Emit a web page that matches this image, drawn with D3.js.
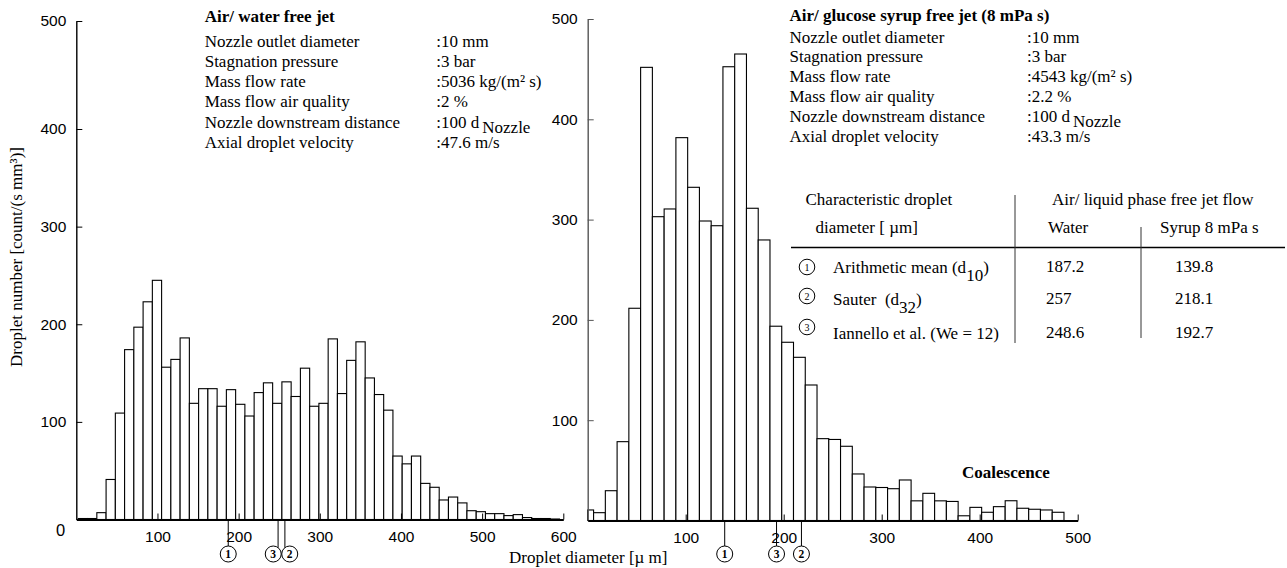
<!DOCTYPE html>
<html>
<head>
<meta charset="utf-8">
<script src="https://cdn.jsdelivr.net/npm/d3@7"></script>
<style>
  html, body { margin: 0; padding: 0; background: #fff; }
  svg { display: block; }
</style>
</head>
<body>
<svg id="chart" width="1287" height="568"></svg>
<script>
// Droplet size distributions of two air/liquid free jets
// (left: air/water, right: air/glucose syrup 8 mPa s).

// ---- Histogram classes (µm) and droplet number per class ----
const waterBinStart = 2.5;
const waterBinWidth = 11.4;
const waterCounts = [1, 1, 7, 41, 109, 174, 197, 223, 245, 156, 164, 186, 119, 134, 134, 116,
  133, 118, 106, 130, 140, 119, 141, 126, 155, 116, 119, 185, 129, 163, 182, 145, 128, 112,
  65, 57, 65, 37, 33, 20, 23, 17, 9, 8, 6, 6, 4, 5, 2, 1, 1, 0.5];

const syrupBinStart = -6;
const syrupBinWidth = 12;
const syrupCounts = [10.5, 7.8, 29.7, 78.6, 211.6, 451.8, 302.9, 310.6, 381.7, 332.2, 298.6,
  293.9, 452.4, 465.1, 311.3, 279.7, 193.7, 177.7, 162.7, 135.1, 81.6, 80.8, 74, 46.4, 33.4,
  32.9, 31.7, 40.4, 19.6, 27.1, 19.6, 19, 4.7, 13.1, 8.2, 13.8, 19.7, 12.2, 11.2, 10.5, 8.2];

// ---- Axis ticks ----
const countTicks = [100, 200, 300, 400, 500];
const waterDiameterTicks = [100, 200, 300, 400, 500, 600];
const syrupDiameterTicks = [100, 200, 300, 400, 500];

// ---- Operating conditions ----
const conditionLabels = ["Nozzle outlet diameter", "Stagnation pressure", "Mass flow rate",
  "Mass flow air quality", "Nozzle downstream distance", "Axial droplet velocity"];
const waterConditions = [":10 mm", ":3 bar", ":5036 kg/(m\u00B2 s)", ":2 %", ":100 d_Nozzle", ":47.6 m/s"];
const syrupConditions = [":10 mm", ":3 bar", ":4543 kg/(m\u00B2 s)", ":2.2 %", ":100 d_Nozzle", ":43.3 m/s"];

// ---- Characteristic droplet diameters (µm) ----
const diameterNames = [["Arithmetic mean (d", "10", ")"], ["Sauter \u00A0(d", "32", ")"],
  ["Iannello et al. (We = 12)", "", ""]];
const waterDiameters = [187.2, 257, 248.6];
const syrupDiameters = [139.8, 218.1, 192.7];

// ---------------------------------------------------------------
const SERIF = "'Liberation Serif', 'Times New Roman', serif";
const SANS = "'Liberation Sans', Arial, Helvetica, sans-serif";

const svg = d3.select("#chart");
svg.append("rect").attr("width", 1287).attr("height", 568).attr("fill", "#fff");

const xW = d3.scaleLinear().domain([0, 600]).range([76.3, 563.3]);
const yW = d3.scaleLinear().domain([0, 400, 500]).range([519.5, 129, 21]);
const xS = d3.scaleLinear().domain([0, 500]).range([587.7, 1077.7]).clamp(true);
const yS = d3.scaleLinear().domain([0, 500]).range([520.5, 19]);

function histogram(counts, start, width, x, y) {
  const g = svg.append("g");
  g.selectAll("rect")
    .data(counts.map((c, i) => ({ lo: start + i * width, hi: start + (i + 1) * width, c })))
    .join("rect")
    .attr("x", d => x(d.lo))
    .attr("width", d => x(d.hi) - x(d.lo))
    .attr("y", d => y(d.c))
    .attr("height", d => y(0) - y(d.c))
    .attr("fill", "#fff")
    .attr("stroke", "#000")
    .attr("stroke-width", 1.1);
}

function axes(x, y, xTicks, yColor) {
  const gy = svg.append("g")
    .attr("transform", `translate(${x(0)},0)`)
    .call(d3.axisLeft(y).tickValues(countTicks).tickSizeInner(-6).tickSizeOuter(0).tickPadding(10));
  gy.select(".domain").attr("stroke", yColor).attr("stroke-width", 1.4);
  gy.selectAll(".tick line").attr("stroke", yColor);
  gy.selectAll("text").attr("font-family", SANS).attr("font-size", 15.5).attr("fill", "#000");

  const gx = svg.append("g")
    .attr("transform", `translate(0,${y(0)})`)
    .call(d3.axisBottom(x).tickValues(xTicks).tickSizeInner(-6).tickSizeOuter(0).tickPadding(11));
  gx.select(".domain").attr("stroke", "#000").attr("stroke-width", 2);
  gx.selectAll("text").attr("font-family", SANS).attr("font-size", 15.5).attr("fill", "#000");
}

histogram(waterCounts, waterBinStart, waterBinWidth, xW, yW);
histogram(syrupCounts, syrupBinStart, syrupBinWidth, xS, yS);
axes(xW, yW, waterDiameterTicks, "#000");
axes(xS, yS, syrupDiameterTicks, "#555");

// zero label at the common origin of the left panel
svg.append("text").attr("x", xW(0) - 11).attr("y", yW(0) + 16)
  .attr("text-anchor", "end").attr("font-family", SANS).attr("font-size", 16.5).text("0");

// circled markers for the characteristic diameters, below the axis
function markers(values, x, y) {
  const r = 8, cy = 554;
  const items = values.map((v, i) => ({ v, n: i + 1, px: x(v), cx: x(v) }))
    .sort((a, b) => a.px - b.px);
  for (let i = 1; i < items.length; i++) {
    const gap = items[i].cx - items[i - 1].cx;
    if (gap < 2 * r + 0.5) {
      const mid = (items[i].cx + items[i - 1].cx) / 2;
      items[i - 1].cx = mid - r - 0.25;
      items[i].cx = mid + r + 0.25;
    }
  }
  const g = svg.append("g");
  items.forEach(d => {
    const dx = Math.min(Math.abs(d.px - d.cx), r - 0.5);
    g.append("line").attr("x1", d.px).attr("x2", d.px)
      .attr("y1", y(0)).attr("y2", cy - Math.sqrt(r * r - dx * dx))
      .attr("stroke", "#000").attr("stroke-width", 1);
    g.append("circle").attr("cx", d.cx).attr("cy", cy).attr("r", r)
      .attr("fill", "#fff").attr("stroke", "#000").attr("stroke-width", 1);
    g.append("text").attr("x", d.cx).attr("y", cy).attr("dy", "0.35em")
      .attr("text-anchor", "middle").attr("font-family", SERIF)
      .attr("font-size", 11.5).attr("font-weight", "bold").text(d.n);
  });
}
markers(waterDiameters, xW, yW);
markers(syrupDiameters, xS, yS);

// axis titles
svg.append("text").attr("x", 509).attr("y", 563)
  .attr("font-family", SERIF).attr("font-size", 17).text("Droplet diameter [\u00B5 m]");
svg.append("text").attr("transform", "translate(22,257) rotate(-90)")
  .attr("text-anchor", "middle").attr("font-family", SERIF).attr("font-size", 17)
  .text("Droplet number [count/(s mm\u00B3)]");

// operating condition blocks
function conditions(title, values, x0, x1, titleY, y0, dy) {
  const g = svg.append("g").attr("font-family", SERIF).attr("font-size", 17).attr("fill", "#000");
  g.append("text").attr("x", x0).attr("y", titleY).attr("font-weight", "bold").text(title);
  conditionLabels.forEach((lab, i) => {
    g.append("text").attr("x", x0).attr("y", y0 + i * dy).text(lab);
    const parts = values[i].split("_");
    const t = g.append("text").attr("x", x1).attr("y", y0 + i * dy).text(parts[0]);
    if (parts[1]) t.append("tspan").attr("dx", 3).attr("dy", 5).text(parts[1]);
  });
}
conditions("Air/ water free jet", waterConditions, 204.7, 436.3, 21.7, 46.7, 20.2);
conditions("Air/ glucose syrup free jet (8 mPa s)", syrupConditions, 789.5, 1027, 21.3, 42.5, 19.8);

// table of characteristic diameters
const tg = svg.append("g").attr("font-family", SERIF).attr("font-size", 17).attr("fill", "#000");
tg.append("text").attr("x", 805.5).attr("y", 205).text("Characteristic droplet");
tg.append("text").attr("x", 815.5).attr("y", 233).text("diameter [ \u00B5m]");
tg.append("text").attr("x", 1052).attr("y", 205).text("Air/ liquid phase free jet flow");
tg.append("text").attr("x", 1048).attr("y", 233).text("Water");
tg.append("text").attr("x", 1160).attr("y", 233).text("Syrup 8 mPa s");
tg.append("line").attr("x1", 791).attr("x2", 1285).attr("y1", 247.5).attr("y2", 247.5)
  .attr("stroke", "#000").attr("stroke-width", 1.3);
tg.append("line").attr("x1", 1015).attr("x2", 1015).attr("y1", 195).attr("y2", 343)
  .attr("stroke", "#333").attr("stroke-width", 1);
tg.append("line").attr("x1", 1141).attr("x2", 1141).attr("y1", 227).attr("y2", 338)
  .attr("stroke", "#333").attr("stroke-width", 1);

const rowBase = [273, 305, 339];
const rowCircle = [267, 296, 327];
diameterNames.forEach((nm, i) => {
  tg.append("circle").attr("cx", 807).attr("cy", rowCircle[i]).attr("r", 7.8)
    .attr("fill", "none").attr("stroke", "#000").attr("stroke-width", 1);
  tg.append("text").attr("x", 807).attr("y", rowCircle[i]).attr("dy", "0.35em")
    .attr("text-anchor", "middle").attr("font-size", 10).text(i + 1);
  const t = tg.append("text").attr("x", 833).attr("y", rowBase[i]).text(nm[0]);
  if (nm[1]) {
    t.append("tspan").attr("dy", 8).text(nm[1]);
    t.append("tspan").attr("dy", -8).text(nm[2]);
  }
  tg.append("text").attr("x", 1046).attr("y", rowBase[i] - 1).text(waterDiameters[i]);
  tg.append("text").attr("x", 1175).attr("y", rowBase[i] - 1).text(syrupDiameters[i]);
});

// annotation in the tail of the syrup distribution
svg.append("text").attr("x", 962).attr("y", 478).attr("font-family", SERIF)
  .attr("font-size", 17).attr("font-weight", "bold").text("Coalescence");
</script>
</body>
</html>
